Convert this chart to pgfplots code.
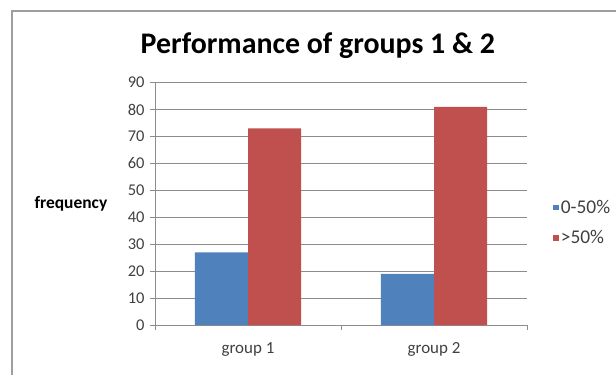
\documentclass[border=0pt]{standalone}
\usepackage{pgfplots}
\pgfplotsset{compat=1.18}
\usepackage{fontspec}
\setmainfont{Carlito}
\definecolor{exblue}{HTML}{4F81BD}
\definecolor{exred}{HTML}{C0504D}
\definecolor{gridgray}{HTML}{8C8C8C}
\definecolor{txtgray}{HTML}{404040}
\begin{document}
\begin{tikzpicture}[x=1bp,y=1bp]
\useasboundingbox (0,0) rectangle (616,374);
\draw[color=black!38, line width=1.6bp] (12,-10) -- (12,363) -- (640,363);
\begin{axis}[
  at={(155bp,49bp)}, anchor=south west,
  scale only axis, width=372bp, height=242.3bp,
  /pgf/number format/assume math mode=true,
  ybar=0pt, bar width=0.285,
  xmin=0.5, xmax=2.5, ymin=0, ymax=90,
  ytick={0,10,...,90},
  xtick={0.5,1.5,2.5},
  xticklabels={group 1, group 2},
  x tick label as interval,
  axis x line*=bottom, axis y line*=left,
  axis line style={gridgray, line width=0.8bp, -},
  tick style={gridgray, line width=0.8bp},
  tick align=outside, major tick length=5bp,
  ymajorgrids, grid style={gridgray, line width=0.8bp},
  ticklabel style={font=\fontsize{16.5}{17}\selectfont, text=txtgray},
  yticklabel style={xshift=-2bp},
  xticklabel style={yshift=-9bp, font=\fontsize{17}{18}\selectfont},
  ylabel={\textbf{frequency}},
  ylabel style={at={(axis description cs:-0.226,0.5)}, rotate=-90, anchor=center, font=\fontsize{17.5}{18}\selectfont},
  title={Performance of groups 1 \& 2},
  title style={at={(axis description cs:0.438,1.13)}, anchor=center, font=\bfseries\fontsize{30}{32}\selectfont},
  legend style={at={(axis description cs:1.07,0.525)}, anchor=north west, draw=none, fill=none,
    font=\fontsize{19.5}{20}\selectfont, text=txtgray, row sep=12bp, inner sep=0pt,
    cells={anchor=west, inner xsep=1.5bp}},
  legend image code/.code={\fill[#1,draw=none] (0bp,-2.8bp) rectangle (5.6bp,2.8bp);},
  legend cell align=left,
]
\addplot[fill=exblue, draw=none] coordinates {(1,27) (2,19)};
\addplot[fill=exred, draw=none] coordinates {(1,73) (2,81)};
\legend{0-50\%, >50\%}
\end{axis}
\end{tikzpicture}
\end{document}
